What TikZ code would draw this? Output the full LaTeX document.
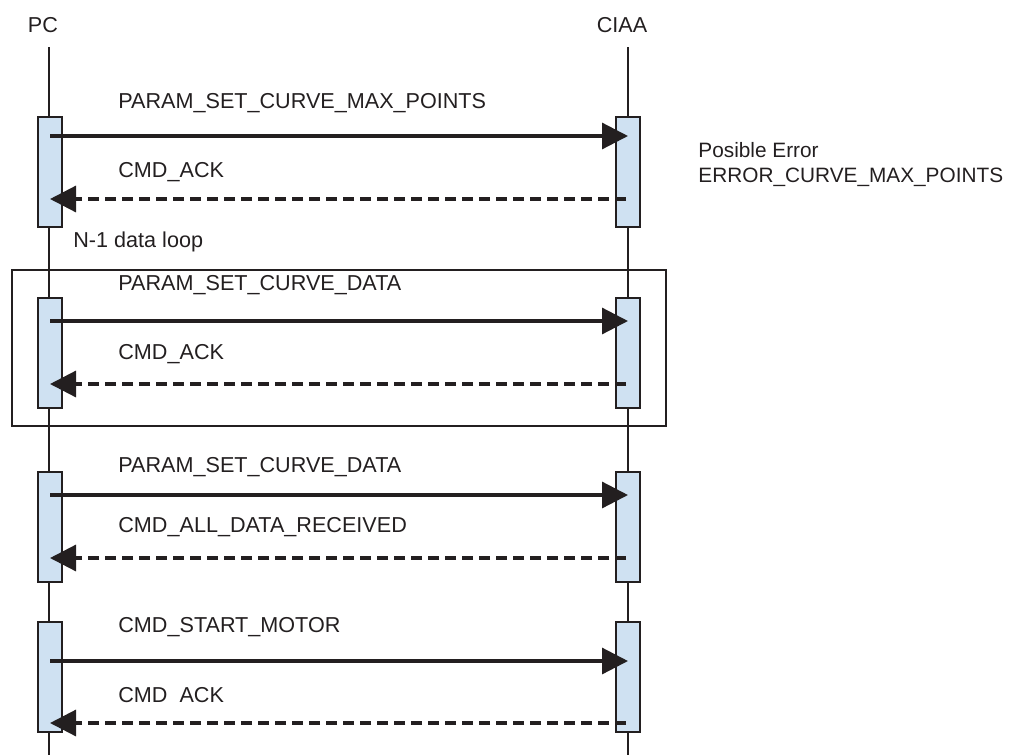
\documentclass[tikz,border=0pt]{standalone}
\usepackage{fontspec}
\setmainfont{Liberation Sans}
\usetikzlibrary{arrows.meta}

\definecolor{ink}{RGB}{35,31,32}
\definecolor{barblue}{RGB}{207,225,242}

\begin{document}
\begin{tikzpicture}[x=0.5pt,y=-0.5pt,
  every node/.style={font=\fontsize{10.8}{13}\selectfont, text=ink, inner sep=0pt, text height=7.7pt, text depth=0pt},
  lbl/.style={anchor=west},
  note/.style={anchor=west, font=\fontsize{10.4}{12.5}\selectfont, text height=7.4pt},
  life/.style={draw=ink, line width=1.2pt},
  actbar/.style={draw=ink, line width=1.3pt, fill=barblue, minimum width=12pt, minimum height=55pt},
  msg/.style={draw=ink, line width=1.6pt, -{Triangle[length=13pt,width=13pt]}},
  reply/.style={msg, dash pattern=on 5.5pt off 3pt},
  loopbox/.style={draw=ink, line width=1pt}]
  \useasboundingbox (0,0) rectangle (1010,755);

  \node (pc) at (43,24.5) {PC};
  \node (ciaa) at (622,24.5) {CIAA};
  \coordinate (pctop) at (49,47);
  \coordinate (pcbot) at (49,755);
  \coordinate (ciaatop) at (628,47);
  \coordinate (ciaabot) at (628,755);
  \draw[life] (pctop) -- (pcbot);
  \draw[life] (ciaatop) -- (ciaabot);

  \node[actbar] (pc1) at (50,172) {};
  \node[actbar] (ciaa1) at (628,172) {};
  \node[actbar] (pc2) at (50,353) {};
  \node[actbar] (ciaa2) at (628,353) {};
  \node[actbar] (pc3) at (50,527) {};
  \node[actbar] (ciaa3) at (628,527) {};
  \node[actbar] (pc4) at (50,677) {};
  \node[actbar] (ciaa4) at (628,677) {};

  \coordinate (loopa) at (12,270);
  \coordinate (loopb) at (666,426);
  \draw[loopbox] (loopa) rectangle (loopb);

  \coordinate (s1) at (50,136);
  \coordinate (r1) at (50,199);
  \coordinate (s2) at (50,321);
  \coordinate (r2) at (50,384);
  \coordinate (s3) at (50,495);
  \coordinate (r3) at (50,558);
  \coordinate (s4) at (50,661);
  \coordinate (r4) at (50,723);
  \draw[msg] (s1) -- (s1 -| ciaa1);
  \draw[reply] ([xshift=-1pt]r1 -| ciaa1) -- (r1);
  \draw[msg] (s2) -- (s2 -| ciaa2);
  \draw[reply] ([xshift=-1pt]r2 -| ciaa2) -- (r2);
  \draw[msg] (s3) -- (s3 -| ciaa3);
  \draw[reply] ([xshift=-1pt]r3 -| ciaa3) -- (r3);
  \draw[msg] (s4) -- (s4 -| ciaa4);
  \draw[reply] ([xshift=-1pt]r4 -| ciaa4) -- (r4);

  \node[lbl] (t1) at (118,100.5) {PARAM\_SET\_CURVE\_MAX\_POINTS};
  \node[lbl] (t2) at (118,169.5) {CMD\_ACK};
  \node[lbl] (loopname) at (73,239.5) {N-1 data loop};
  \node[lbl] (t3) at (118,283) {PARAM\_SET\_CURVE\_DATA};
  \node[lbl] (t4) at (118,351.5) {CMD\_ACK};
  \node[lbl] (t5) at (118,465) {PARAM\_SET\_CURVE\_DATA};
  \node[lbl] (t6) at (118,524.5) {CMD\_ALL\_DATA\_RECEIVED};
  \node[lbl] (t7) at (118,624.5) {CMD\_START\_MOTOR};
  \node[lbl] (t8) at (118,694.5) {CMD\ \ ACK};
  \node[note] (err1) at (698,150) {Posible Error};
  \node[note] (err2) at (698,175) {ERROR\_CURVE\_MAX\_POINTS};
\end{tikzpicture}
\end{document}
